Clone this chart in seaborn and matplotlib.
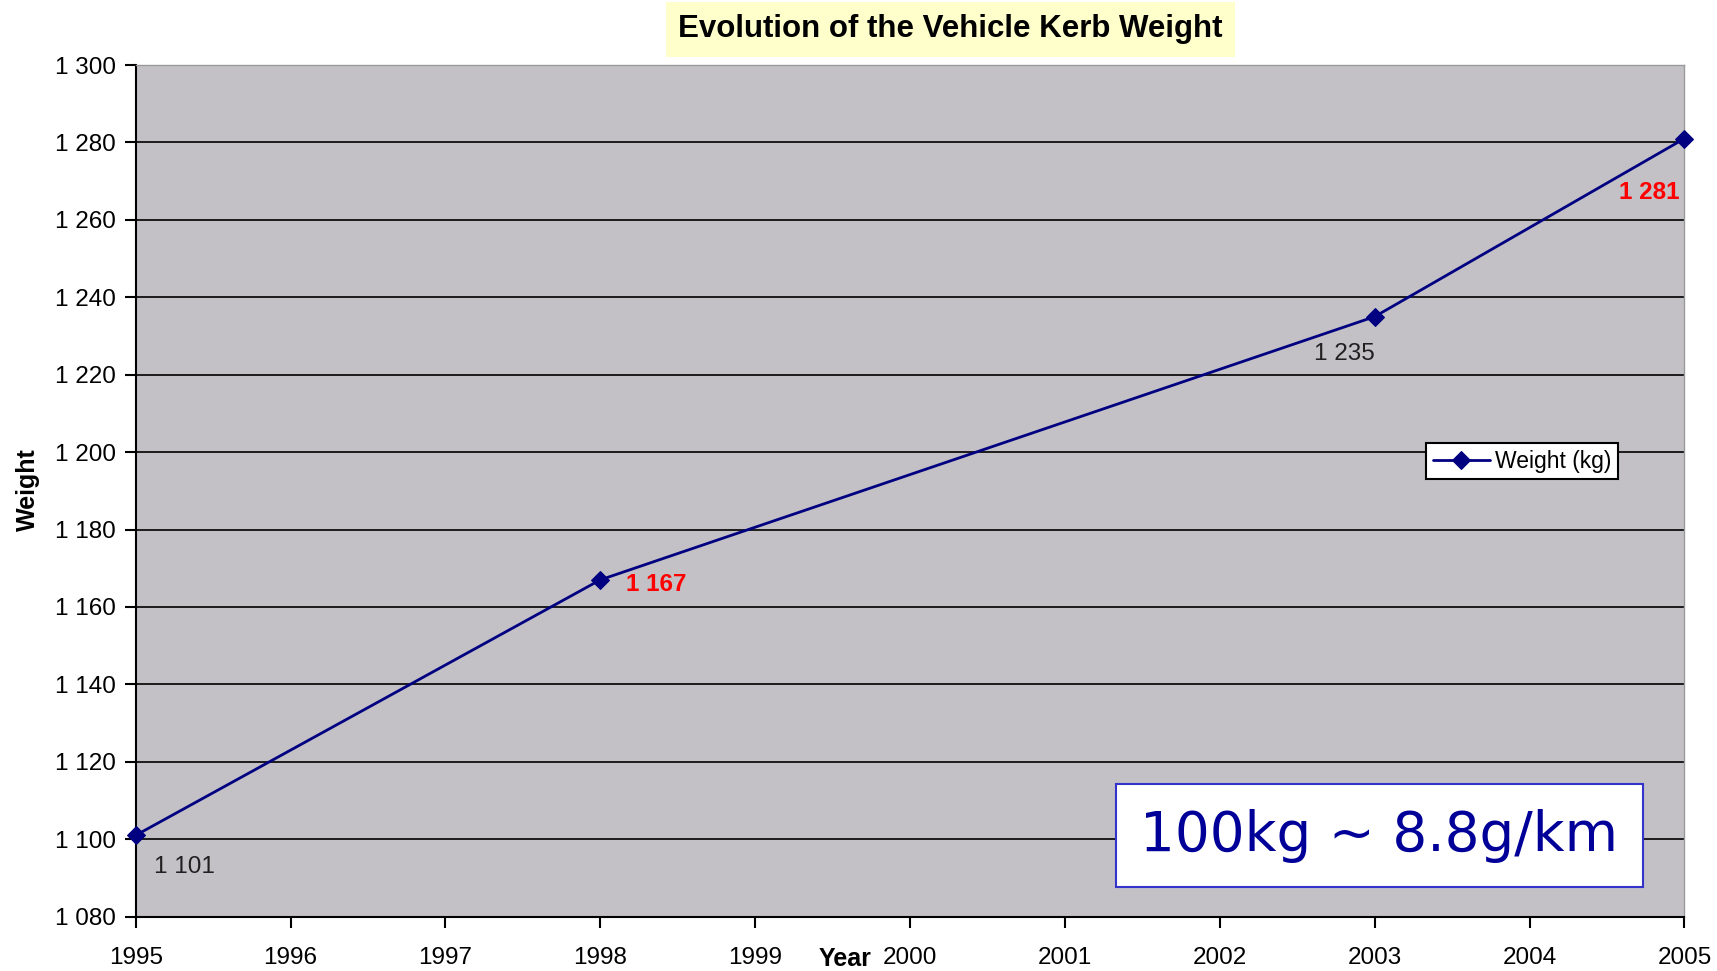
import numpy as np
import pandas as pd
import matplotlib
matplotlib.use("Agg")
import matplotlib.pyplot as plt
import seaborn as sns
from matplotlib.ticker import FuncFormatter

# --- DATA ---
years = [1995, 1998, 2003, 2005]
weights = [1101, 1167, 1235, 1281]
label_colors = ["#202020", "red", "#202020", "red"]
label_bold = [False, True, False, True]
year_ticks = list(range(1995, 2006))
weight_ticks = list(range(1080, 1301, 20))

df = pd.DataFrame({"Year": years, "Weight (kg)": weights})

sns.set_theme(style="white")
plt.rcParams["font.family"] = ["Liberation Sans", "DejaVu Sans"]
plt.rcParams["text.color"] = "black"

fig = plt.figure(figsize=(17.17, 9.71), dpi=100)
ax = fig.add_axes([0.079, 0.056, 0.902, 0.877])
ax.set_facecolor("#C3C1C6")

sns.lineplot(data=df, x="Year", y="Weight (kg)", ax=ax, color="#000080",
             lw=2, marker="D", markersize=9, markeredgecolor="#000080",
             label="Weight (kg)", clip_on=False, zorder=5)

ax.set_xlim(1995, 2005)
ax.set_ylim(1080, 1300)
ax.set_xticks(year_ticks)
ax.set_yticks(weight_ticks)
ax.yaxis.set_major_formatter(FuncFormatter(lambda v, p: f"{int(v):,}".replace(",", " ")))
ax.tick_params(axis="both", which="major", labelsize=17.5, length=8, width=1.5,
               direction="out", colors="black", bottom=True, left=True, pad=6)
ax.tick_params(axis="x", pad=14)
ax.grid(axis="y", color="black", lw=1.2)
ax.set_axisbelow(True)
for s in ["left", "bottom"]:
    ax.spines[s].set_color("black")
    ax.spines[s].set_linewidth(1.5)
for s in ["top", "right"]:
    ax.spines[s].set_color("#9a9a9a")
    ax.spines[s].set_linewidth(1)

ax.set_xlabel("")
ax.set_ylabel("")
fig.text(0.016, 0.496, "Weight", rotation=90, fontsize=18, fontweight="bold",
         ha="center", va="center")
fig.text(0.492, 0.0, "Year", fontsize=18, fontweight="bold", ha="center", va="bottom")

fig.text(0.5535, 0.970, "Evolution of the Vehicle Kerb Weight", fontsize=22.5,
         fontweight="bold", ha="center", va="center",
         bbox=dict(boxstyle="square,pad=0.4", fc="#FFFFCC", ec="none"))

# data labels
offsets = [(18, -32, "left"), (26, -5, "left"), (0, -37, "right"), (-5, -54, "right")]
for x, y, c, b, (dx, dy, ha) in zip(years, weights, label_colors, label_bold, offsets):
    ax.annotate(f"{y:,}".replace(",", " "), (x, y), xytext=(dx, dy),
                textcoords="offset pixels", ha=ha, va="center", fontsize=17.5,
                color=c, fontweight="bold" if b else "normal")

leg = ax.legend(loc="center", bbox_to_anchor=(0.895, 0.535), fontsize=16.5,
                frameon=True, fancybox=False, edgecolor="black", framealpha=1,
                handlelength=2.5, borderpad=0.3, handletextpad=0.2)
leg.get_frame().set_linewidth(1.5)

ax.text(0.803, 0.095, "100kg ~ 8.8g/km", transform=ax.transAxes, fontsize=39.5,
        color="#000099", family="DejaVu Sans", ha="center", va="center",
        bbox=dict(boxstyle="square,pad=0.45", fc="white", ec="#3333CC", lw=1.5))

fig.savefig("out.png", dpi=100)
